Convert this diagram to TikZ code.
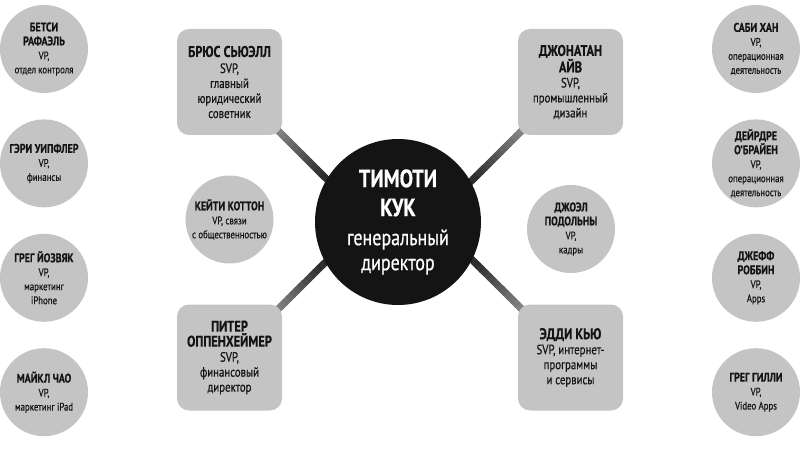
\documentclass[tikz,border=0pt]{standalone}
\usepackage{fontspec}
\setmainfont{PT Sans}[FakeStretch=0.8,FakeBold=0.5]
\usetikzlibrary{positioning,calc,backgrounds}
\definecolor{chip}{gray}{0.77}
\definecolor{ink}{gray}{0.08}
\newcommand{\who}[1]{{\fontsize{15.5}{19}\selectfont\bfseries #1}}
\newcommand{\vpwho}[1]{{\fontsize{12.5}{15}\selectfont\bfseries #1}}

\begin{document}
\begin{tikzpicture}[x=1pt,y=-1pt,node distance=26pt,
  boss/.style={circle,fill=ink,text=white,minimum size=166pt,inner sep=0pt,align=center,font=\fontsize{22.5}{25}\selectfont},
  svp/.style={rectangle,rounded corners=12pt,fill=chip,text=ink,minimum width=105pt,minimum height=106pt,inner sep=2pt,align=center,font=\fontsize{13.5}{15}\selectfont},
  vp/.style={circle,fill=chip,text=ink,minimum size=88pt,inner sep=0pt,align=center,font=\fontsize{11}{14}\selectfont},
  link/.style={line width=7pt,line cap=rect}]
\useasboundingbox (0,0) rectangle (800,449);

% CEO in the middle
\node[boss] (ceo) at (398,222) {{\fontsize{25}{30}\selectfont\bfseries ТИМОТИ}\\[4pt]
  {\fontsize{25}{30}\selectfont\bfseries КУК}\\[4pt] генеральный\\ директор};

% senior vice presidents
\node[svp] (bruce) at (229.5,82) {\who{БРЮС СЬЮЭЛЛ}\\[1pt] SVP,\\ главный\\ юридический\\ советник};
\node[svp] (peter) at (229.5,357.5) {\who{ПИТЕР}\\ \who{ОППЕНХЕЙМЕР}\\ SVP,\\ финансовый\\ директор};
\node[svp] (jony) at (570.5,82) {\who{ДЖОНАТАН}\\ \who{АЙВ}\\ SVP,\\ промышленный\\ дизайн};
\node[svp] (eddy) at (570.5,357.5) {\who{ЭДДИ КЬЮ}\\ SVP, интернет-\\ программы\\ и сервисы};

% vice presidents next to the CEO
\node[vp] (katie) at (229.5,219.5) {\vpwho{КЕЙТИ КОТТОН}\\ VP, связи\\ с общественностью};
\node[vp] (joel) at (571,229) {\vpwho{ДЖОЭЛ}\\ \vpwho{ПОДОЛЬНЫ}\\ VP,\\ кадры};

% left column
\node[vp] (betsy) at (44,49) {\vpwho{БЕТСИ}\\ \vpwho{РАФАЭЛЬ}\\ VP,\\ отдел контроля};
\node[vp,below=of betsy] (gary) {\vpwho{ГЭРИ УИПФЛЕР}\\ VP,\\ финансы};
\node[vp,below=of gary] (greg) {\vpwho{ГРЕГ ЙОЗВЯК}\\ VP,\\ маркетинг\\ iPhone};
\node[vp,below=of greg] (michael) {\vpwho{МАЙКЛ ЧАО}\\ VP,\\ маркетинг iPad};

% right column
\node[vp] (sabih) at (756,49) {\vpwho{САБИ ХАН}\\ VP,\\ операционная\\ деятельность};
\node[vp,below=of sabih] (deirdre) {\vpwho{ДЕЙРДРЕ}\\ \vpwho{О'БРАЙЕН}\\ VP,\\ операционная\\ деятельность};
\node[vp,below=of deirdre] (jeff) {\vpwho{ДЖЕФФ}\\ \vpwho{РОББИН}\\ VP,\\ Apps};
\node[vp,below=of jeff] (gregj) {\vpwho{ГРЕГ ГИЛЛИ}\\ VP,\\ Video Apps};

% shaded spokes, light at the box, dark at the CEO
\begin{scope}[on background layer]
\foreach \from/\to in {bruce/149,peter/209,jony/29,eddy/333}{
  \foreach \i in {0,...,24}{
    \pgfmathsetmacro\tone{10+3*\i}
    \draw[link,draw=black!\tone] ($(\from)!\i/25!(ceo.\to)$) -- ($(\from)!\i/25+0.04!(ceo.\to)$);
  }
}
\end{scope}
\end{tikzpicture}
\end{document}
